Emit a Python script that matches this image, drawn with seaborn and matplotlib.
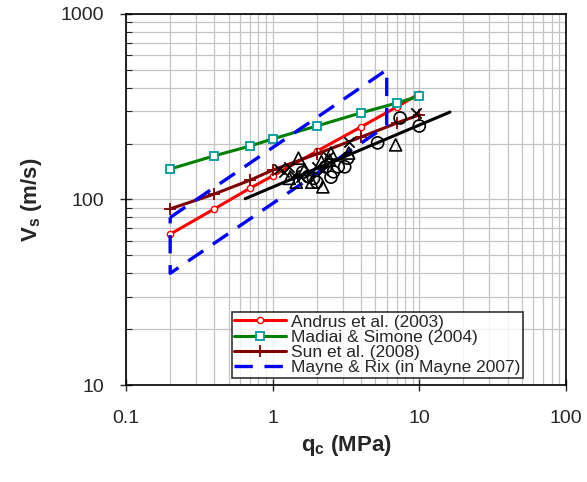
import matplotlib
matplotlib.use("Agg")
import matplotlib.pyplot as plt
import seaborn as sns
import pandas as pd

# correlation curves (qc in MPa, Vs in m/s)
qc_pts = [0.2, 0.4, 0.7, 1, 2, 4, 7, 10]
vs_andrus = [65, 89, 115, 134, 182, 246, 315, 371]
vs_madiai = [146, 172, 194, 212, 249, 293, 331, 361]
vs_sun = [89, 107, 127, 144, 176, 217, 258, 286]

# Mayne & Rix band outline
qc_mayne = [0.2, 6, 6, 0.2, 0.2]
vs_mayne = [80, 500, 250, 40, 80]

# fitted line through the measured data
qc_fit = [0.65, 16.2]
vs_fit = [101, 296]

# measured points
qc_circle = [1.6, 1.75, 2.0, 2.3, 2.6, 2.8, 3.1, 3.25, 2.5, 5.2, 7.4, 10, 1.9]
vs_circle = [140, 133, 124, 150, 141, 150, 150, 167, 132, 202, 275, 249, 130]
qc_tri = [1.5, 1.45, 1.85, 2.2, 2.45, 2.5, 3.3, 6.9, 1.3, 2.15, 1.65]
vs_tri = [167, 124, 124, 117, 163, 178, 178, 197, 130, 160, 145]
qc_cross = [1.2, 1.3, 1.4, 1.55, 1.8, 2.0, 2.2, 3.3, 9.5, 1.1, 2.4]
vs_cross = [140, 150, 136, 132, 141, 150, 145, 204, 293, 146, 170]

sns.set_style("white")
plt.rcParams['font.family'] = ['Liberation Sans', 'DejaVu Sans']
plt.rcParams['mathtext.fontset'] = 'custom'
plt.rcParams['mathtext.bf'] = 'Liberation Sans:bold'
plt.rcParams['mathtext.rm'] = 'Liberation Sans'

fig = plt.figure(figsize=(5.87, 4.82), dpi=100)
ax = fig.add_axes([0.2147, 0.2012, 0.7493, 0.7698])
ax.set_xscale("log")
ax.set_yscale("log")

ax.grid(True, which="both", color="#c4c4c4", lw=0.9)
ax.set_axisbelow(True)

pts = pd.DataFrame({"qc": qc_pts, "andrus": vs_andrus, "madiai": vs_madiai, "sun": vs_sun})

sns.lineplot(data=pts, x="qc", y="andrus", ax=ax, color="#ff0000", lw=2.2,
             marker="o", markersize=4.5, markerfacecolor="white", markeredgecolor="#ff0000",
             markeredgewidth=1.0, label="Andrus et al. (2003)")
sns.lineplot(data=pts, x="qc", y="madiai", ax=ax, color="#008000", lw=2.2,
             marker="s", markersize=6, markerfacecolor="white", markeredgecolor="#009999",
             markeredgewidth=1.3, label="Madiai & Simone (2004)")
sns.lineplot(data=pts, x="qc", y="sun", ax=ax, color="#800000", lw=2.2,
             marker="+", markersize=8, markeredgecolor="#800000",
             markeredgewidth=1.3, label="Sun et al. (2008)")
sns.lineplot(x=qc_mayne, y=vs_mayne, sort=False, estimator=None, ax=ax, color="#0000ff",
             lw=2.4, label="Mayne & Rix (in Mayne 2007)")
ax.lines[-1].set_dashes([5.5, 3.5])

sns.lineplot(x=qc_fit, y=vs_fit, ax=ax, color="black", lw=2.2, legend=False)

sk = dict(ax=ax, facecolor="none", edgecolor="black", linewidth=1.2, s=75, legend=False, zorder=5)
sns.scatterplot(x=qc_circle, y=vs_circle, marker="o", **sk)
sns.scatterplot(x=qc_tri, y=vs_tri, marker="^", **sk)
sns.scatterplot(x=qc_cross, y=vs_cross, marker="x", ax=ax, color="black", linewidth=1.3,
                s=55, legend=False, zorder=5)

ax.set_xlim(0.1, 100)
ax.set_ylim(10, 1000)
ax.set_xticks([0.1, 1, 10, 100])
ax.set_xticklabels(["0.1", "1", "10", "100"])
ax.set_yticks([10, 100, 1000])
ax.set_yticklabels(["10", "100", "1000"])
ax.tick_params(axis="both", which="major", direction="inout", length=8, width=1,
               labelsize=14, pad=12, left=True, bottom=True)
ax.tick_params(axis="y", which="minor", direction="in", length=4, width=0.8, left=True)
ax.tick_params(axis="x", which="minor", length=0)
ax.tick_params(axis="x", which="major", pad=14)

for s in ax.spines.values():
    s.set_color("black")
    s.set_linewidth(1.2)

ax.set_xlabel(r"q$_\mathbf{c}$ (MPa)", fontsize=16, fontweight="bold", labelpad=4)
ax.set_ylabel(r"V$_\mathbf{s}$ (m/s)", fontsize=16, fontweight="bold", labelpad=12)

leg = ax.legend(loc="lower left", bbox_to_anchor=(0.24, 0.02), fontsize=12.5,
                frameon=True, fancybox=False, shadow=False, borderpad=0.15,
                labelspacing=0.0, handlelength=3.0, handletextpad=0.25, borderaxespad=0)
leg.get_frame().set_edgecolor("black")
leg.get_frame().set_linewidth(1.2)

fig.savefig("out.png", dpi=100)
